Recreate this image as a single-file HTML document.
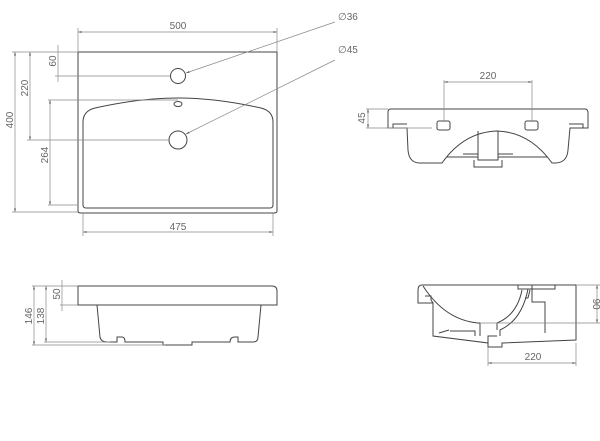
<!DOCTYPE html>
<html><head><style>html,body{margin:0;padding:0;background:#fff}svg{display:block}</style></head><body>
<svg width="600" height="441" viewBox="0 0 600 441" xmlns="http://www.w3.org/2000/svg" font-family="Liberation Sans, sans-serif" font-size="10" fill="none">
<defs><marker id="a" markerWidth="6" markerHeight="6" refX="5" refY="3" orient="auto-start-reverse"><path d="M0,1.5 L5,3 L0,4.5z" fill="#666"/></marker></defs>
<g stroke="#444" stroke-width="1">
<path d="M78,52 L277,52 L277,211 Q277,213 274,213 L81,213 Q78,213 78,211 Z"/>
<path d="M83,122 Q83,111 95,108 Q140,98 178,98 Q216,98 261,108 Q273,111 273,122 L273,205 Q273,208 270,208 L86,208 Q83,208 83,205 Z"/>
<circle cx="178" cy="76" r="7.5"/><circle cx="178" cy="140" r="9"/>
<ellipse cx="178" cy="104" rx="4" ry="2.5"/>
<path d="M391,109 L585,109 Q588,109 588,113 L588,128 L570,128 L568,150 Q567,163 555,163 L552,163 Q530,132 497,131 Q464,132 442,163 L420,163 Q409,163 408,150 L407,128 L388,128 L388,112 Q388,109 391,109 Z"/>
<path d="M393,128 L393,124 L407,124 M583,128 L583,124 L569,124"/>
<rect x="437" y="121" width="13" height="9" rx="2"/><rect x="525" y="121" width="13" height="9" rx="2"/>
<path d="M478,131 L478,160 L498,160 L498,131"/>
<path d="M474,160 L474,167 L502,167 L502,160"/>
<path d="M463,154 L478,154 M498,154 L513,154 M447,157 L478,157 M498,157 L547,157"/>
<path d="M78,286 L272,286 Q277,286 277,291 L277,305 L78,305 Z"/>
<path d="M97,305 L100,337 Q101,342 107,342 L117,342 L117,337 L122,337 Q125,337 125,342 L163,342 L163,345 L192,345 L192,342 L230,342 Q230,337 235,337 L238,337 L238,342 L253,342 Q258,342 258,337 L261,305"/>
<path d="M422,285 L576,285 L576,340 L502,343 L502,347 L488,347 L488,343 L433,336 L433,303 L418,303 L418,290 Q418,285 422,285 Z"/>
<path d="M423,286 Q445,320 478,323 L480,323 L480,336 M433,303 L431,300 L431,296 L425,296"/>
<path d="M450,331 L475,331 L475,336 M439,333 L449,330"/>
<path d="M532,285 L532,302 L545,302 L545,333 M518,285 L518,289 L555,289 L555,285"/>
<path d="M528,289 Q522,320 500,330 L500,336 M522,290 Q517,315 497,323 L497,330 M528,298 L525,298 M530,290 L528,298"/>
<path d="M488,343 L488,336 L497,336"/>
</g>
<g stroke="#888" stroke-width="0.7">
<line x1="78" y1="32" x2="277" y2="32" marker-start="url(#a)" marker-end="url(#a)"/>
<line x1="78" y1="28" x2="78" y2="52"/><line x1="277" y1="28" x2="277" y2="52"/>
<line x1="83" y1="232" x2="273" y2="232" marker-start="url(#a)" marker-end="url(#a)"/>
<line x1="83" y1="213" x2="83" y2="236"/><line x1="273" y1="213" x2="273" y2="236"/>
<line x1="15" y1="52" x2="15" y2="212" marker-start="url(#a)" marker-end="url(#a)"/>
<line x1="12" y1="52" x2="78" y2="52"/><line x1="12" y1="212" x2="78" y2="212"/>
<line x1="30" y1="52" x2="30" y2="140" marker-start="url(#a)" marker-end="url(#a)"/>
<line x1="27" y1="140" x2="170" y2="140"/>
<line x1="58" y1="45" x2="58" y2="82"/>
<line x1="55" y1="76" x2="170" y2="76"/>
<line x1="50" y1="100" x2="50" y2="205" marker-start="url(#a)" marker-end="url(#a)"/>
<line x1="48" y1="100" x2="178" y2="100"/><line x1="48" y1="205" x2="77" y2="205"/>
<line x1="186" y1="73" x2="335" y2="22" marker-start="url(#a)"/>
<line x1="186" y1="134" x2="335" y2="60" marker-start="url(#a)"/>
<line x1="444" y1="82" x2="532" y2="82" marker-start="url(#a)" marker-end="url(#a)"/>
<line x1="444" y1="80" x2="444" y2="121"/><line x1="532" y1="80" x2="532" y2="121"/>
<line x1="368" y1="109" x2="368" y2="128" marker-start="url(#a)" marker-end="url(#a)"/>
<line x1="366" y1="109" x2="388" y2="109"/><line x1="366" y1="128" x2="432" y2="128"/>
<line x1="34" y1="286" x2="34" y2="345" marker-start="url(#a)" marker-end="url(#a)"/>
<line x1="46" y1="286" x2="46" y2="342" marker-start="url(#a)" marker-end="url(#a)"/>
<line x1="32" y1="286" x2="78" y2="286"/>
<line x1="44" y1="342" x2="110" y2="342"/><line x1="32" y1="345" x2="165" y2="345"/>
<line x1="62" y1="280" x2="62" y2="311"/><line x1="60" y1="305" x2="78" y2="305"/>
<line x1="597" y1="285" x2="597" y2="323" marker-start="url(#a)" marker-end="url(#a)"/>
<line x1="576" y1="285" x2="600" y2="285"/><line x1="480" y1="323" x2="600" y2="323"/>
<line x1="488" y1="363" x2="576" y2="363" marker-start="url(#a)" marker-end="url(#a)"/>
<line x1="488" y1="347" x2="488" y2="366"/><line x1="576" y1="343" x2="576" y2="366"/>
</g>
<g fill="#666" stroke="none">
<text x="178" y="29" text-anchor="middle">500</text>
<text x="178" y="230" text-anchor="middle">475</text>
<text x="338" y="20">∅36</text>
<text x="338" y="53">∅45</text>
<text transform="translate(13,120) rotate(-90)" text-anchor="middle">400</text>
<text transform="translate(28,88) rotate(-90)" text-anchor="middle">220</text>
<text transform="translate(56,61) rotate(-90)" text-anchor="middle">60</text>
<text transform="translate(48,155) rotate(-90)" text-anchor="middle">264</text>
<text x="488" y="79" text-anchor="middle">220</text>
<text transform="translate(365,118) rotate(-90)" text-anchor="middle">45</text>
<text transform="translate(32,316) rotate(-90)" text-anchor="middle">146</text>
<text transform="translate(44,316) rotate(-90)" text-anchor="middle">138</text>
<text transform="translate(60,294) rotate(-90)" text-anchor="middle">50</text>
<text transform="translate(593,304) rotate(90)" text-anchor="middle">90</text>
<text x="533" y="360" text-anchor="middle">220</text>
</g>
</svg>
</body></html>
